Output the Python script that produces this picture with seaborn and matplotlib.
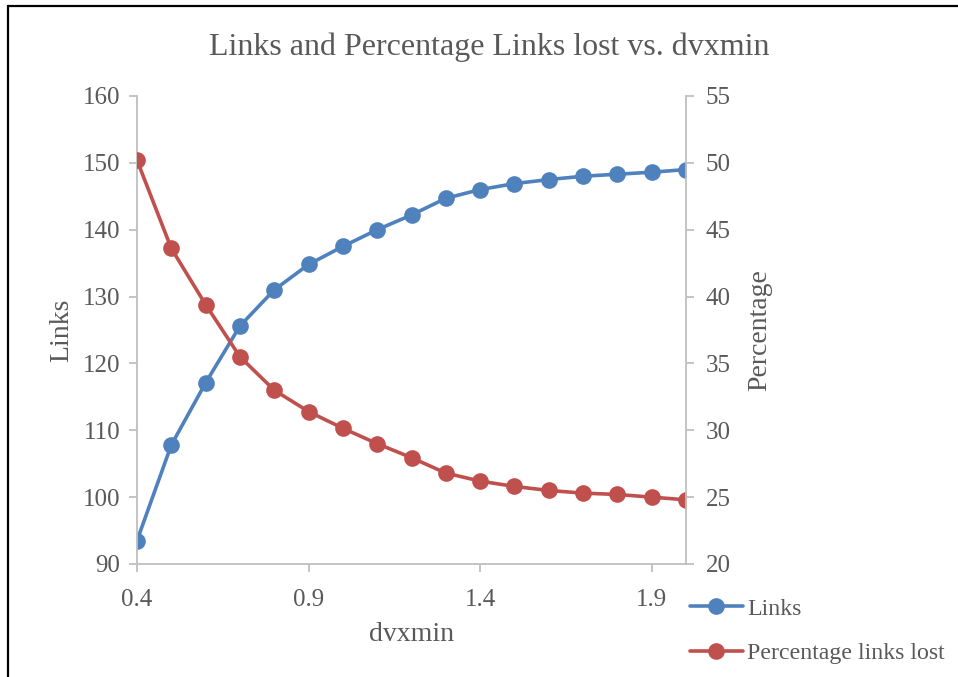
import matplotlib
matplotlib.use("Agg")
import matplotlib.pyplot as plt
from matplotlib.lines import Line2D
import seaborn as sns
import pandas as pd

dvxmin = [0.4, 0.5, 0.6, 0.7, 0.8, 0.9, 1.0, 1.1, 1.2, 1.3, 1.4, 1.5, 1.6, 1.7, 1.8, 1.9, 2.0]
links = [93.5, 107.8, 117.1, 125.6, 131.0, 134.8, 137.5, 140.0, 142.2, 144.7,
         146.0, 146.9, 147.5, 148.0, 148.3, 148.6, 149.0]
pct_lost = [50.2, 43.6, 39.4, 35.5, 33.0, 31.4, 30.15, 29.0, 27.95, 26.8,
            26.2, 25.8, 25.5, 25.3, 25.2, 25.0, 24.8]
x_ticks = [0.4, 0.9, 1.4, 1.9]

df = pd.DataFrame({"dvxmin": dvxmin, "Links": links, "Percentage links lost": pct_lost})

sns.set_theme(style="white")
plt.rcParams["font.family"] = ["Liberation Serif", "DejaVu Serif"]

BLUE = "#4F81BD"
RED = "#C0504D"
GRID = "#BFBFBF"
TXT = "#595959"

fig = plt.figure(figsize=(9.58, 6.77), dpi=100)
ax = fig.add_axes([137 / 958, 1 - 564 / 677, (686 - 137) / 958, (564 - 96) / 677])
ax2 = ax.twinx()

sns.lineplot(data=df, x="dvxmin", y="Links", ax=ax, color=BLUE, marker="o",
             markersize=12, linewidth=2.6, markeredgewidth=0, label="Links", legend=False)
sns.lineplot(data=df, x="dvxmin", y="Percentage links lost", ax=ax2, color=RED, marker="o",
             markersize=12, linewidth=2.6, markeredgewidth=0,
             label="Percentage links lost", legend=False)

ax.set_xlim(0.4, 2.0)
ax.set_ylim(90, 160)
ax2.set_ylim(20, 55)
ax.set_xticks(x_ticks)
ax.set_xticklabels([f"{v:.1f}" for v in x_ticks])
ax.set_yticks(range(90, 161, 10))
ax2.set_yticks(range(20, 56, 5))

for a in (ax, ax2):
    for s in a.spines.values():
        s.set_visible(False)
ax.spines["left"].set_visible(True)
ax.spines["bottom"].set_visible(True)
ax2.spines["right"].set_visible(True)
for s in (ax.spines["left"], ax.spines["bottom"], ax2.spines["right"]):
    s.set_color(GRID)
    s.set_linewidth(1.3)

ax.tick_params(axis="x", which="both", direction="out", length=6, width=1.3, color=GRID,
               labelsize=18, labelcolor=TXT, pad=12, bottom=True)
ax.tick_params(axis="y", direction="out", length=6, width=1.3, color=GRID,
               labelsize=18, labelcolor=TXT, pad=6, left=True)
ax2.tick_params(axis="y", direction="out", length=6, width=1.3, color=GRID,
                labelsize=18, labelcolor=TXT, pad=8, right=True)

ax.set_xlabel("dvxmin", fontsize=20, color=TXT, labelpad=8)
ax.set_ylabel("Links", fontsize=20, color=TXT, labelpad=6)
ax2.set_ylabel("Percentage", fontsize=20, color=TXT, labelpad=12)

fig.text(489 / 958, 1 - 47 / 677, "Links and Percentage Links lost vs. dvxmin",
         ha="center", va="center", fontsize=23, color=TXT)

h1, l1 = ax.get_legend_handles_labels()
h2, l2 = ax2.get_legend_handles_labels()
fig.legend(h1 + h2, l1 + l2, loc="upper left", bbox_to_anchor=(690 / 958, 1 - 598 / 677),
           frameon=False, fontsize=17.2, labelcolor=TXT, handlelength=2.2,
           handletextpad=0.2, labelspacing=0.95, borderaxespad=0, borderpad=0)

# outer frame along left and top edges
fig.add_artist(Line2D([8 / 958, 8 / 958], [0, 1 - 6 / 677], transform=fig.transFigure,
                      color="black", linewidth=1.6))
fig.add_artist(Line2D([8 / 958, 1], [1 - 6 / 677, 1 - 6 / 677], transform=fig.transFigure,
                      color="black", linewidth=1.6))

fig.savefig("out.png", dpi=100)
